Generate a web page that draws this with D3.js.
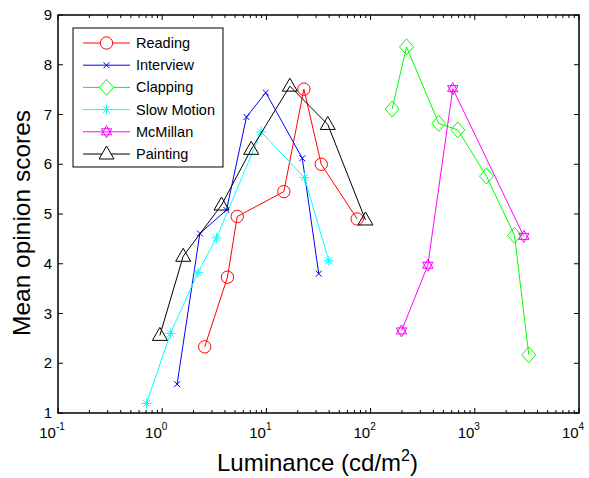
<!DOCTYPE html>
<html>
<head>
<meta charset="utf-8">
<script src="https://cdn.jsdelivr.net/npm/d3@7"></script>
<style>
  body { margin: 0; background: #fff; }
  text { font-family: Arial, "Liberation Sans", sans-serif; fill: #000; }
</style>
</head>
<body>
<div id="chart"></div>
<script>
// series data: luminance (cd/m2) and mean opinion score
var seriesNames = ["Reading", "Interview", "Clapping", "Slow Motion", "McMillan", "Painting"];
var seriesColors = ["#ff0000", "#0000ff", "#00ff00", "#00ffff", "#ff00ff", "#000000"];
var seriesMarkers = ["circle", "x", "diamond", "asterisk", "hexagram", "triangle"];

var readingX = [2.56, 4.23, 5.25, 14.7, 22.9, 33.6, 74.3];
var readingY = [2.33, 3.73, 4.95, 5.45, 7.51, 6.0, 4.9];
var interviewX = [1.39, 2.3, 4.14, 6.44, 9.87, 22.1, 31.8];
var interviewY = [1.58, 4.61, 5.08, 6.95, 7.44, 6.12, 3.8];
var clappingX = [161, 221, 451, 687, 1295, 2404, 3297];
var clappingY = [7.11, 8.36, 6.82, 6.69, 5.76, 4.57, 2.17];
var slowMotionX = [0.707, 1.2, 2.2, 3.32, 8.91, 23.2, 39.7];
var slowMotionY = [1.19, 2.6, 3.82, 4.52, 6.65, 5.73, 4.06];
var mcmillanX = [198, 354, 615, 2953];
var mcmillanY = [2.65, 3.97, 7.52, 4.55];
var paintingX = [0.95, 1.59, 3.71, 7.15, 16.8, 38.8, 89.3];
var paintingY = [2.56, 4.15, 5.18, 6.3, 7.57, 6.8, 4.88];

var xTickExps = [-1, 0, 1, 2, 3, 4];
var yTicks = [1, 2, 3, 4, 5, 6, 7, 8, 9];

var seriesX = [readingX, interviewX, clappingX, slowMotionX, mcmillanX, paintingX];
var seriesY = [readingY, interviewY, clappingY, slowMotionY, mcmillanY, paintingY];

var margin = {top: 15, left: 58},
    width = 521,
    height = 398;

var svg = d3.select("#chart")
  .append("svg")
    .attr("width", 589)
    .attr("height", 478)
  .append("g")
    .attr("transform", "translate(" + margin.left + "," + margin.top + ")");

var x = d3.scaleLog()
  .domain([0.1, 10000])
  .range([0, width]);
var y = d3.scaleLinear()
  .domain([1, 9])
  .range([height, 0]);

// minor log ticks (2..9 in each decade)
var minor = [];
xTickExps.slice(0, -1).forEach(function(e) {
  for (var k = 2; k <= 9; k++) minor.push(k * Math.pow(10, e));
});
var majors = xTickExps.map(function(e) { return Math.pow(10, e); });

function tickLines(vals, len, isX) {
  var g = svg.append("g").attr("stroke", "#000").attr("stroke-width", 1);
  vals.forEach(function(v) {
    if (isX) {
      g.append("line").attr("x1", x(v)).attr("x2", x(v)).attr("y1", height).attr("y2", height - len);
      g.append("line").attr("x1", x(v)).attr("x2", x(v)).attr("y1", 0).attr("y2", len);
    } else {
      g.append("line").attr("y1", y(v)).attr("y2", y(v)).attr("x1", 0).attr("x2", len);
      g.append("line").attr("y1", y(v)).attr("y2", y(v)).attr("x1", width).attr("x2", width - len);
    }
  });
}
tickLines(minor, 3, true);
tickLines(majors, 5, true);
tickLines(yTicks, 5, false);

// axes box
svg.append("rect")
  .attr("x", 0).attr("y", 0)
  .attr("width", width).attr("height", height)
  .attr("fill", "none")
  .attr("stroke", "#000")
  .attr("stroke-width", 1.5);

// y tick labels
svg.append("g").selectAll("text")
  .data(yTicks)
  .enter()
  .append("text")
    .attr("x", -6)
    .attr("y", function(d) { return y(d) + 5; })
    .attr("text-anchor", "end")
    .style("font-size", "15px")
    .text(function(d) { return d; });

// x tick labels 10^n
var xl = svg.append("g").selectAll("g")
  .data(xTickExps)
  .enter()
  .append("text")
    .attr("x", function(d) { return x(Math.pow(10, d)) - 6; })
    .attr("y", height + 25)
    .attr("text-anchor", "middle")
    .style("font-size", "15px");
xl.append("tspan").text("10");
xl.append("tspan")
  .attr("dy", -8)
  .style("font-size", "10px")
  .text(function(d) { return d; });

// axis titles
var xt = svg.append("text")
  .attr("x", width / 2 - 1)
  .attr("y", height + 58)
  .attr("text-anchor", "middle")
  .style("font-size", "24px");
xt.append("tspan").text("Luminance (cd/m");
xt.append("tspan").attr("dy", -10).style("font-size", "16px").text("2");
xt.append("tspan").attr("dy", 10).text(")");

svg.append("text")
  .attr("transform", "translate(-28," + (height / 2 + 9) + ")rotate(-90)")
  .attr("text-anchor", "middle")
  .style("font-size", "24.5px")
  .text("Mean opinion scores");

// marker shapes
function markerPath(type) {
  if (type === "x") return "M-3,-3L3,3M-3,3L3,-3";
  if (type === "asterisk") return "M-5,0L5,0M0,-5L0,5M-3.5,-3.5L3.5,3.5M-3.5,3.5L3.5,-3.5";
  if (type === "diamond") return "M0,-8L7,0L0,8L-7,0Z";
  if (type === "triangle") return "M0,-8L7.5,5L-7.5,5Z";
  if (type === "hexagram") return "M0,-6L5.2,3L-5.2,3ZM0,6L5.2,-3L-5.2,-3Z";
  return d3.symbol().type(d3.symbolCircle).size(120)();
}

var line = d3.line()
  .x(function(d) { return x(d[0]); })
  .y(function(d) { return y(d[1]); });

seriesNames.forEach(function(name, i) {
  var pts = seriesX[i].map(function(v, j) { return [v, seriesY[i][j]]; });
  svg.append("path")
    .datum(pts)
    .attr("fill", "none")
    .attr("stroke", seriesColors[i])
    .attr("stroke-width", 1)
    .attr("d", line);
  svg.append("g").selectAll("path")
    .data(pts)
    .enter()
    .append("path")
      .attr("transform", function(d) { return "translate(" + x(d[0]) + "," + y(d[1]) + ")"; })
      .attr("d", markerPath(seriesMarkers[i]))
      .attr("fill", "none")
      .attr("stroke", seriesColors[i])
      .attr("stroke-width", 1);
});

// legend
var lg = svg.append("g").attr("transform", "translate(15,13)");
lg.append("rect")
  .attr("x", 0).attr("y", 0)
  .attr("width", 150).attr("height", 139)
  .attr("fill", "#fff")
  .attr("stroke", "#000")
  .attr("stroke-width", 1);
seriesNames.forEach(function(name, i) {
  var cy = 15 + i * 22.2;
  lg.append("line")
    .attr("x1", 10).attr("x2", 57)
    .attr("y1", cy).attr("y2", cy)
    .attr("stroke", seriesColors[i]);
  lg.append("path")
    .attr("transform", "translate(33.5," + cy + ")")
    .attr("d", markerPath(seriesMarkers[i]))
    .attr("fill", "#fff")
    .attr("stroke", seriesColors[i]);
  lg.append("text")
    .attr("x", 63)
    .attr("y", cy + 5)
    .style("font-size", "14.5px")
    .text(name);
});
</script>
</body>
</html>
